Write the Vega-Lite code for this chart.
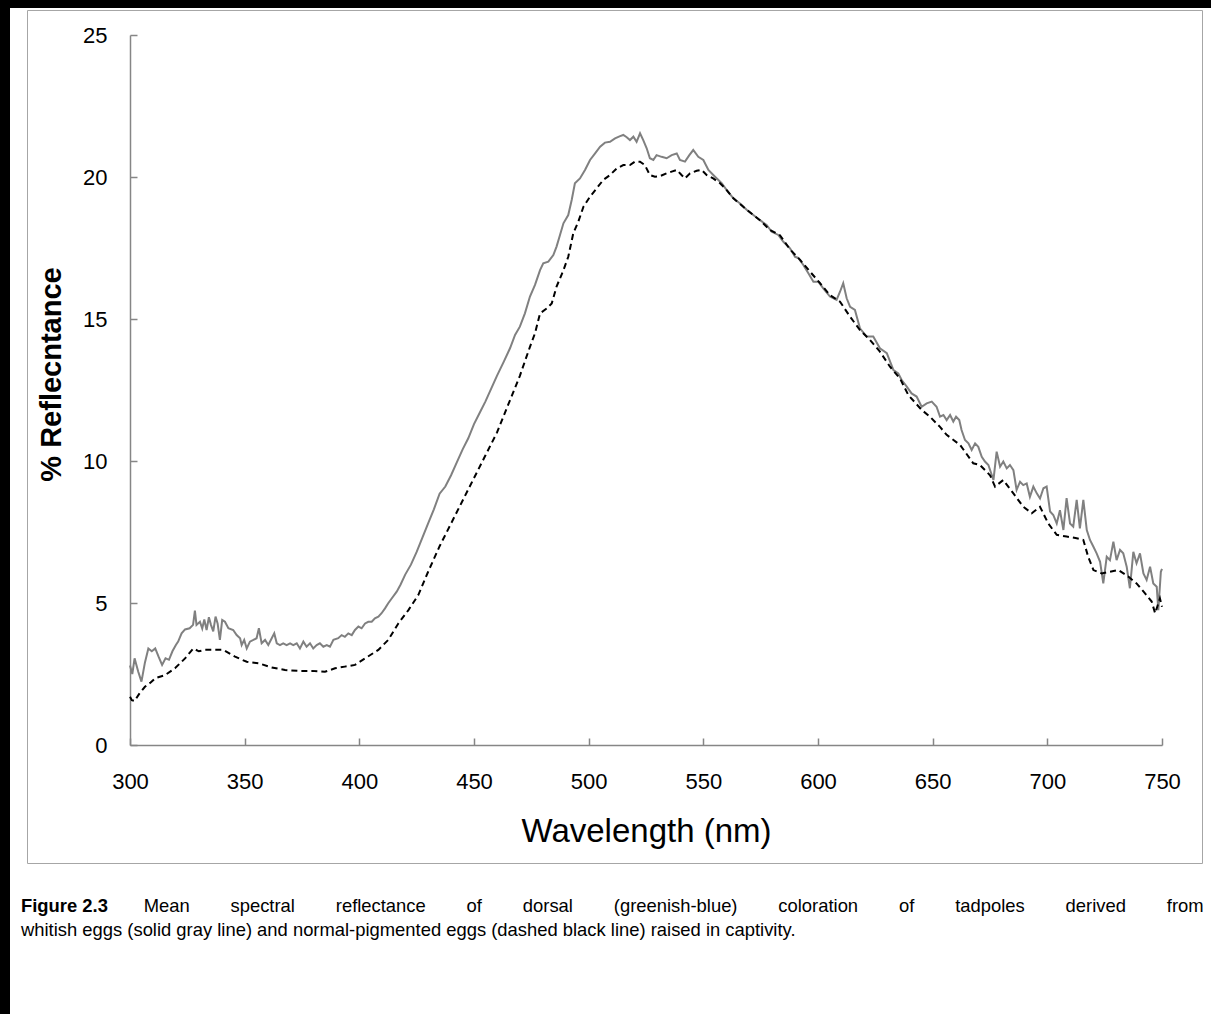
{
  "$schema": "https://vega.github.io/schema/vega-lite/v6.json",
  "autosize": "none",
  "width": 1201,
  "height": 1006,
  "padding": {"left": 10, "top": 8, "right": 0, "bottom": 0},
  "background": "black",
  "config": {
    "view": {"fill": "white", "stroke": null},
    "font": "Liberation Sans",
    "axis": {"grid": false, "labelFont": "Liberation Sans", "titleFont": "Liberation Sans"}
  },
  "title": {
    "text": "Figure 2.3",
    "subtitle": [
      "\u200b\u00a0\u00a0\u00a0\u00a0\u00a0\u00a0\u00a0\u00a0\u00a0\u00a0\u00a0\u00a0\u00a0\u00a0\u00a0\u00a0\u00a0\u00a0\u00a0\u00a0\u00a0\u00a0\u00a0\u00a0Mean \u00a0\u00a0\u00a0\u00a0\u00a0\u00a0\u00a0spectral \u00a0\u00a0\u00a0\u00a0\u00a0\u00a0\u00a0reflectance \u00a0\u00a0\u00a0\u00a0\u00a0\u00a0\u00a0of \u00a0\u00a0\u00a0\u00a0\u00a0\u00a0\u00a0dorsal \u00a0\u00a0\u00a0\u00a0\u00a0\u00a0\u00a0(greenish-blue) \u00a0\u00a0\u00a0\u00a0\u00a0\u00a0\u00a0coloration \u00a0\u00a0\u00a0\u00a0\u00a0\u00a0\u00a0of \u00a0\u00a0\u00a0\u00a0\u00a0\u00a0\u00a0tadpoles \u00a0\u00a0\u00a0\u00a0\u00a0\u00a0\u00a0derived \u00a0\u00a0\u00a0\u00a0\u00a0\u00a0\u00a0from",
      "whitish eggs (solid gray line) and normal-pigmented eggs (dashed black line) raised in captivity."
    ],
    "orient": "bottom",
    "anchor": "start",
    "frame": "group",
    "offset": -117,
    "dx": 11,
    "font": "Liberation Sans",
    "fontSize": 18.4,
    "fontWeight": "bold",
    "color": "black",
    "subtitleFont": "Liberation Sans",
    "subtitleFontSize": 18.4,
    "subtitleFontWeight": "normal",
    "subtitleColor": "black",
    "subtitlePadding": -18.4,
    "subtitleLineHeight": 24
  },
  "datasets": {
    "whitish": [
      {"wavelength": 300, "reflectance": 2.8}, {"wavelength": 301, "reflectance": 2.5}, {"wavelength": 302, "reflectance": 3.05}, {"wavelength": 303.6, "reflectance": 2.58}, {"wavelength": 305, "reflectance": 2.23}, {"wavelength": 306.5, "reflectance": 2.9}, {"wavelength": 308, "reflectance": 3.4}, {"wavelength": 309.5, "reflectance": 3.3}, {"wavelength": 311, "reflectance": 3.4}, {"wavelength": 312.5, "reflectance": 3.1}, {"wavelength": 314, "reflectance": 2.82}, {"wavelength": 315.5, "reflectance": 3.05}, {"wavelength": 317, "reflectance": 3.0}, {"wavelength": 318.5, "reflectance": 3.3}, {"wavelength": 320, "reflectance": 3.52}, {"wavelength": 321, "reflectance": 3.64}, {"wavelength": 322.5, "reflectance": 3.93}, {"wavelength": 324, "reflectance": 4.07}, {"wavelength": 326, "reflectance": 4.11}, {"wavelength": 327.5, "reflectance": 4.23}, {"wavelength": 328.3, "reflectance": 4.73}, {"wavelength": 329, "reflectance": 4.23}, {"wavelength": 330.5, "reflectance": 4.34}, {"wavelength": 331.5, "reflectance": 4.1}, {"wavelength": 332.4, "reflectance": 4.42}, {"wavelength": 333.4, "reflectance": 4.05}, {"wavelength": 334.4, "reflectance": 4.5}, {"wavelength": 335.3, "reflectance": 4.23}, {"wavelength": 336.3, "reflectance": 4.0}, {"wavelength": 337.3, "reflectance": 4.52}, {"wavelength": 338.2, "reflectance": 4.28}, {"wavelength": 339.2, "reflectance": 3.7}, {"wavelength": 340.2, "reflectance": 4.4}, {"wavelength": 341.4, "reflectance": 4.34}, {"wavelength": 342.9, "reflectance": 4.11}, {"wavelength": 345, "reflectance": 4.05}, {"wavelength": 346.5, "reflectance": 3.87}, {"wavelength": 348, "reflectance": 3.76}, {"wavelength": 348.7, "reflectance": 3.52}, {"wavelength": 349.8, "reflectance": 3.7}, {"wavelength": 350.9, "reflectance": 3.4}, {"wavelength": 352.3, "reflectance": 3.64}, {"wavelength": 353.8, "reflectance": 3.7}, {"wavelength": 355.2, "reflectance": 3.76}, {"wavelength": 356.2, "reflectance": 4.11}, {"wavelength": 357.4, "reflectance": 3.58}, {"wavelength": 358.9, "reflectance": 3.7}, {"wavelength": 360.3, "reflectance": 3.52}, {"wavelength": 361.8, "reflectance": 3.76}, {"wavelength": 362.9, "reflectance": 3.93}, {"wavelength": 364, "reflectance": 3.58}, {"wavelength": 365.4, "reflectance": 3.52}, {"wavelength": 366.8, "reflectance": 3.58}, {"wavelength": 368.3, "reflectance": 3.52}, {"wavelength": 369.8, "reflectance": 3.58}, {"wavelength": 371.2, "reflectance": 3.52}, {"wavelength": 372.7, "reflectance": 3.58}, {"wavelength": 374.1, "reflectance": 3.4}, {"wavelength": 375.6, "reflectance": 3.64}, {"wavelength": 377, "reflectance": 3.46}, {"wavelength": 378.5, "reflectance": 3.58}, {"wavelength": 379.9, "reflectance": 3.4}, {"wavelength": 381.4, "reflectance": 3.52}, {"wavelength": 382.8, "reflectance": 3.58}, {"wavelength": 384.3, "reflectance": 3.46}, {"wavelength": 385.8, "reflectance": 3.52}, {"wavelength": 387.2, "reflectance": 3.46}, {"wavelength": 388.7, "reflectance": 3.7}, {"wavelength": 390.8, "reflectance": 3.76}, {"wavelength": 392.3, "reflectance": 3.87}, {"wavelength": 393.7, "reflectance": 3.81}, {"wavelength": 395.2, "reflectance": 3.93}, {"wavelength": 396.7, "reflectance": 3.87}, {"wavelength": 398.1, "reflectance": 4.05}, {"wavelength": 399.6, "reflectance": 4.17}, {"wavelength": 401, "reflectance": 4.11}, {"wavelength": 402.5, "reflectance": 4.28}, {"wavelength": 403.9, "reflectance": 4.34}, {"wavelength": 405.4, "reflectance": 4.34}, {"wavelength": 406.8, "reflectance": 4.46}, {"wavelength": 408.3, "reflectance": 4.52}, {"wavelength": 409.7, "reflectance": 4.64}, {"wavelength": 411.2, "reflectance": 4.81}, {"wavelength": 412.6, "reflectance": 4.99}, {"wavelength": 414.1, "reflectance": 5.16}, {"wavelength": 416.3, "reflectance": 5.4}, {"wavelength": 418, "reflectance": 5.65}, {"wavelength": 420, "reflectance": 6.0}, {"wavelength": 422.5, "reflectance": 6.35}, {"wavelength": 425, "reflectance": 6.8}, {"wavelength": 427.5, "reflectance": 7.3}, {"wavelength": 430, "reflectance": 7.8}, {"wavelength": 432.5, "reflectance": 8.3}, {"wavelength": 435, "reflectance": 8.85}, {"wavelength": 437.5, "reflectance": 9.1}, {"wavelength": 440, "reflectance": 9.5}, {"wavelength": 442.5, "reflectance": 9.95}, {"wavelength": 445, "reflectance": 10.4}, {"wavelength": 447.5, "reflectance": 10.8}, {"wavelength": 450, "reflectance": 11.3}, {"wavelength": 452.5, "reflectance": 11.7}, {"wavelength": 455, "reflectance": 12.1}, {"wavelength": 457.5, "reflectance": 12.55}, {"wavelength": 460, "reflectance": 13.0}, {"wavelength": 463, "reflectance": 13.5}, {"wavelength": 465.7, "reflectance": 13.97}, {"wavelength": 467.9, "reflectance": 14.44}, {"wavelength": 470, "reflectance": 14.73}, {"wavelength": 472.2, "reflectance": 15.2}, {"wavelength": 474.4, "reflectance": 15.79}, {"wavelength": 476.6, "reflectance": 16.2}, {"wavelength": 478.8, "reflectance": 16.72}, {"wavelength": 480.2, "reflectance": 16.96}, {"wavelength": 482.4, "reflectance": 17.02}, {"wavelength": 484.6, "reflectance": 17.25}, {"wavelength": 486, "reflectance": 17.55}, {"wavelength": 487.5, "reflectance": 17.96}, {"wavelength": 489, "reflectance": 18.37}, {"wavelength": 491.1, "reflectance": 18.66}, {"wavelength": 492.6, "reflectance": 19.19}, {"wavelength": 494, "reflectance": 19.78}, {"wavelength": 496.2, "reflectance": 19.95}, {"wavelength": 498.4, "reflectance": 20.25}, {"wavelength": 500.6, "reflectance": 20.6}, {"wavelength": 502.8, "reflectance": 20.83}, {"wavelength": 505, "reflectance": 21.07}, {"wavelength": 507.1, "reflectance": 21.21}, {"wavelength": 509.3, "reflectance": 21.24}, {"wavelength": 511.5, "reflectance": 21.36}, {"wavelength": 513.7, "reflectance": 21.44}, {"wavelength": 515.1, "reflectance": 21.48}, {"wavelength": 516.6, "reflectance": 21.4}, {"wavelength": 518, "reflectance": 21.3}, {"wavelength": 519.5, "reflectance": 21.42}, {"wavelength": 520.9, "reflectance": 21.24}, {"wavelength": 522.4, "reflectance": 21.54}, {"wavelength": 523.8, "reflectance": 21.3}, {"wavelength": 525.3, "reflectance": 21.01}, {"wavelength": 526.7, "reflectance": 20.66}, {"wavelength": 528.2, "reflectance": 20.6}, {"wavelength": 529.6, "reflectance": 20.77}, {"wavelength": 531.8, "reflectance": 20.71}, {"wavelength": 534, "reflectance": 20.66}, {"wavelength": 536.2, "reflectance": 20.77}, {"wavelength": 538.4, "reflectance": 20.83}, {"wavelength": 539.8, "reflectance": 20.6}, {"wavelength": 542, "reflectance": 20.54}, {"wavelength": 543.9, "reflectance": 20.77}, {"wavelength": 545.6, "reflectance": 20.95}, {"wavelength": 547.8, "reflectance": 20.71}, {"wavelength": 550, "reflectance": 20.6}, {"wavelength": 552.2, "reflectance": 20.25}, {"wavelength": 555.1, "reflectance": 20.01}, {"wavelength": 558, "reflectance": 19.78}, {"wavelength": 560.2, "reflectance": 19.54}, {"wavelength": 563.1, "reflectance": 19.25}, {"wavelength": 566, "reflectance": 19.07}, {"wavelength": 569, "reflectance": 18.84}, {"wavelength": 571.8, "reflectance": 18.66}, {"wavelength": 574.7, "reflectance": 18.48}, {"wavelength": 577.6, "reflectance": 18.31}, {"wavelength": 579.8, "reflectance": 18.07}, {"wavelength": 582.7, "reflectance": 17.96}, {"wavelength": 584.9, "reflectance": 17.72}, {"wavelength": 587.8, "reflectance": 17.49}, {"wavelength": 590, "reflectance": 17.19}, {"wavelength": 591.4, "reflectance": 17.15}, {"wavelength": 593.6, "reflectance": 16.9}, {"wavelength": 595.8, "reflectance": 16.61}, {"wavelength": 598, "reflectance": 16.31}, {"wavelength": 600.2, "reflectance": 16.31}, {"wavelength": 602.3, "reflectance": 16.08}, {"wavelength": 605.2, "reflectance": 15.79}, {"wavelength": 608.1, "reflectance": 15.67}, {"wavelength": 609.6, "reflectance": 15.96}, {"wavelength": 611, "reflectance": 16.26}, {"wavelength": 612.5, "reflectance": 15.73}, {"wavelength": 614, "reflectance": 15.43}, {"wavelength": 616.1, "reflectance": 15.32}, {"wavelength": 618.3, "reflectance": 14.67}, {"wavelength": 621.2, "reflectance": 14.38}, {"wavelength": 624.1, "reflectance": 14.38}, {"wavelength": 627, "reflectance": 13.97}, {"wavelength": 630, "reflectance": 13.8}, {"wavelength": 632.9, "reflectance": 13.2}, {"wavelength": 635, "reflectance": 13.08}, {"wavelength": 636.5, "reflectance": 12.85}, {"wavelength": 638.7, "reflectance": 12.62}, {"wavelength": 640.8, "reflectance": 12.38}, {"wavelength": 643, "reflectance": 12.27}, {"wavelength": 645.2, "reflectance": 11.91}, {"wavelength": 647.4, "reflectance": 12.03}, {"wavelength": 649.6, "reflectance": 12.09}, {"wavelength": 651.7, "reflectance": 11.91}, {"wavelength": 653.2, "reflectance": 11.56}, {"wavelength": 654.7, "reflectance": 11.62}, {"wavelength": 656.1, "reflectance": 11.44}, {"wavelength": 657.6, "reflectance": 11.62}, {"wavelength": 659, "reflectance": 11.39}, {"wavelength": 660.2, "reflectance": 11.56}, {"wavelength": 661.6, "reflectance": 11.44}, {"wavelength": 662.6, "reflectance": 11.09}, {"wavelength": 664.1, "reflectance": 10.74}, {"wavelength": 665.6, "reflectance": 10.62}, {"wavelength": 667, "reflectance": 10.39}, {"wavelength": 668.5, "reflectance": 10.62}, {"wavelength": 669.9, "reflectance": 10.5}, {"wavelength": 671.4, "reflectance": 10.15}, {"wavelength": 672.8, "reflectance": 9.98}, {"wavelength": 674.3, "reflectance": 9.86}, {"wavelength": 676.5, "reflectance": 9.33}, {"wavelength": 677.9, "reflectance": 10.33}, {"wavelength": 679.4, "reflectance": 9.8}, {"wavelength": 680.8, "reflectance": 9.98}, {"wavelength": 682.3, "reflectance": 9.74}, {"wavelength": 683.7, "reflectance": 9.86}, {"wavelength": 685.2, "reflectance": 9.68}, {"wavelength": 686.6, "reflectance": 8.98}, {"wavelength": 688.1, "reflectance": 9.27}, {"wavelength": 689.5, "reflectance": 9.15}, {"wavelength": 691, "reflectance": 9.21}, {"wavelength": 692.4, "reflectance": 8.74}, {"wavelength": 693.9, "reflectance": 9.1}, {"wavelength": 695.4, "reflectance": 8.86}, {"wavelength": 696.8, "reflectance": 8.68}, {"wavelength": 698.3, "reflectance": 9.04}, {"wavelength": 699.7, "reflectance": 9.1}, {"wavelength": 701.2, "reflectance": 8.22}, {"wavelength": 702.6, "reflectance": 8.1}, {"wavelength": 704.1, "reflectance": 7.8}, {"wavelength": 705.5, "reflectance": 8.27}, {"wavelength": 707, "reflectance": 7.57}, {"wavelength": 708.4, "reflectance": 8.69}, {"wavelength": 709.9, "reflectance": 7.8}, {"wavelength": 711.3, "reflectance": 7.69}, {"wavelength": 712.8, "reflectance": 8.63}, {"wavelength": 714.2, "reflectance": 7.63}, {"wavelength": 715.7, "reflectance": 8.63}, {"wavelength": 717.2, "reflectance": 7.57}, {"wavelength": 718.6, "reflectance": 7.22}, {"wavelength": 720.1, "reflectance": 6.98}, {"wavelength": 721.5, "reflectance": 6.75}, {"wavelength": 723, "reflectance": 6.45}, {"wavelength": 724.4, "reflectance": 5.69}, {"wavelength": 725.9, "reflectance": 6.63}, {"wavelength": 727.3, "reflectance": 6.51}, {"wavelength": 728.8, "reflectance": 7.16}, {"wavelength": 730.2, "reflectance": 6.51}, {"wavelength": 731.7, "reflectance": 6.87}, {"wavelength": 733.1, "reflectance": 6.75}, {"wavelength": 734.6, "reflectance": 6.28}, {"wavelength": 736, "reflectance": 5.52}, {"wavelength": 737.5, "reflectance": 6.8}, {"wavelength": 738.9, "reflectance": 6.4}, {"wavelength": 740.4, "reflectance": 6.75}, {"wavelength": 741.9, "reflectance": 6.04}, {"wavelength": 743.3, "reflectance": 5.81}, {"wavelength": 744.8, "reflectance": 6.28}, {"wavelength": 746.2, "reflectance": 5.69}, {"wavelength": 747.7, "reflectance": 5.57}, {"wavelength": 748.4, "reflectance": 4.75}, {"wavelength": 749.5, "reflectance": 6.1}, {"wavelength": 750, "reflectance": 6.2}
    ],
    "normal": [
      {"wavelength": 300, "reflectance": 1.7}, {"wavelength": 300.8, "reflectance": 1.58}, {"wavelength": 302, "reflectance": 1.55}, {"wavelength": 304, "reflectance": 1.8}, {"wavelength": 306.5, "reflectance": 2.05}, {"wavelength": 309, "reflectance": 2.2}, {"wavelength": 311, "reflectance": 2.35}, {"wavelength": 315.3, "reflectance": 2.46}, {"wavelength": 319.6, "reflectance": 2.7}, {"wavelength": 324, "reflectance": 3.05}, {"wavelength": 327.6, "reflectance": 3.4}, {"wavelength": 330, "reflectance": 3.3}, {"wavelength": 332.7, "reflectance": 3.35}, {"wavelength": 337, "reflectance": 3.35}, {"wavelength": 340.7, "reflectance": 3.35}, {"wavelength": 345.8, "reflectance": 3.11}, {"wavelength": 350.9, "reflectance": 2.93}, {"wavelength": 356, "reflectance": 2.88}, {"wavelength": 361.8, "reflectance": 2.73}, {"wavelength": 367.6, "reflectance": 2.64}, {"wavelength": 373.4, "reflectance": 2.61}, {"wavelength": 379.2, "reflectance": 2.61}, {"wavelength": 385, "reflectance": 2.58}, {"wavelength": 389.4, "reflectance": 2.7}, {"wavelength": 393.7, "reflectance": 2.76}, {"wavelength": 398.1, "reflectance": 2.82}, {"wavelength": 402.5, "reflectance": 3.05}, {"wavelength": 408.3, "reflectance": 3.35}, {"wavelength": 412.6, "reflectance": 3.7}, {"wavelength": 417, "reflectance": 4.28}, {"wavelength": 421.4, "reflectance": 4.75}, {"wavelength": 425.7, "reflectance": 5.28}, {"wavelength": 430, "reflectance": 6.1}, {"wavelength": 435, "reflectance": 7.0}, {"wavelength": 440, "reflectance": 7.8}, {"wavelength": 445, "reflectance": 8.6}, {"wavelength": 450, "reflectance": 9.4}, {"wavelength": 455, "reflectance": 10.2}, {"wavelength": 460, "reflectance": 11.0}, {"wavelength": 465, "reflectance": 12.0}, {"wavelength": 470, "reflectance": 13.0}, {"wavelength": 474.4, "reflectance": 14.02}, {"wavelength": 476.6, "reflectance": 14.5}, {"wavelength": 478.8, "reflectance": 15.2}, {"wavelength": 481.7, "reflectance": 15.37}, {"wavelength": 483.9, "reflectance": 15.55}, {"wavelength": 486, "reflectance": 16.14}, {"wavelength": 489, "reflectance": 16.72}, {"wavelength": 491.1, "reflectance": 17.19}, {"wavelength": 493.3, "reflectance": 18.02}, {"wavelength": 495.5, "reflectance": 18.43}, {"wavelength": 497.7, "reflectance": 18.95}, {"wavelength": 500.6, "reflectance": 19.31}, {"wavelength": 503.5, "reflectance": 19.6}, {"wavelength": 506.4, "reflectance": 19.9}, {"wavelength": 509.3, "reflectance": 20.07}, {"wavelength": 512.2, "reflectance": 20.3}, {"wavelength": 515.1, "reflectance": 20.42}, {"wavelength": 518, "reflectance": 20.42}, {"wavelength": 520.2, "reflectance": 20.54}, {"wavelength": 522.4, "reflectance": 20.54}, {"wavelength": 524.5, "reflectance": 20.42}, {"wavelength": 526.7, "reflectance": 20.07}, {"wavelength": 528.9, "reflectance": 20.01}, {"wavelength": 531.1, "reflectance": 20.03}, {"wavelength": 534, "reflectance": 20.13}, {"wavelength": 536.2, "reflectance": 20.19}, {"wavelength": 538.4, "reflectance": 20.25}, {"wavelength": 540.5, "reflectance": 20.07}, {"wavelength": 542, "reflectance": 19.95}, {"wavelength": 544.2, "reflectance": 20.13}, {"wavelength": 547.1, "reflectance": 20.22}, {"wavelength": 549.3, "reflectance": 20.25}, {"wavelength": 551.4, "reflectance": 20.07}, {"wavelength": 554.3, "reflectance": 19.95}, {"wavelength": 557.3, "reflectance": 19.78}, {"wavelength": 560.2, "reflectance": 19.54}, {"wavelength": 563.1, "reflectance": 19.25}, {"wavelength": 567.4, "reflectance": 18.95}, {"wavelength": 571.8, "reflectance": 18.66}, {"wavelength": 574.7, "reflectance": 18.48}, {"wavelength": 579.1, "reflectance": 18.13}, {"wavelength": 583.4, "reflectance": 17.95}, {"wavelength": 587.8, "reflectance": 17.45}, {"wavelength": 592.2, "reflectance": 17.08}, {"wavelength": 596.5, "reflectance": 16.67}, {"wavelength": 600.9, "reflectance": 16.26}, {"wavelength": 605.2, "reflectance": 15.84}, {"wavelength": 609.6, "reflectance": 15.61}, {"wavelength": 614, "reflectance": 15.08}, {"wavelength": 618.3, "reflectance": 14.61}, {"wavelength": 622.7, "reflectance": 14.26}, {"wavelength": 627, "reflectance": 13.85}, {"wavelength": 631.4, "reflectance": 13.32}, {"wavelength": 635.8, "reflectance": 12.9}, {"wavelength": 639.4, "reflectance": 12.32}, {"wavelength": 645.2, "reflectance": 11.8}, {"wavelength": 648.8, "reflectance": 11.56}, {"wavelength": 653.2, "reflectance": 11.2}, {"wavelength": 656.1, "reflectance": 10.92}, {"wavelength": 662, "reflectance": 10.56}, {"wavelength": 667.7, "reflectance": 9.92}, {"wavelength": 670.6, "reflectance": 9.86}, {"wavelength": 675, "reflectance": 9.5}, {"wavelength": 677.2, "reflectance": 9.1}, {"wavelength": 680.8, "reflectance": 9.33}, {"wavelength": 685.2, "reflectance": 8.86}, {"wavelength": 689.5, "reflectance": 8.39}, {"wavelength": 693.2, "reflectance": 8.16}, {"wavelength": 696.8, "reflectance": 8.39}, {"wavelength": 700.4, "reflectance": 7.8}, {"wavelength": 704.1, "reflectance": 7.4}, {"wavelength": 708.4, "reflectance": 7.34}, {"wavelength": 712.8, "reflectance": 7.28}, {"wavelength": 715.7, "reflectance": 7.22}, {"wavelength": 717.8, "reflectance": 6.63}, {"wavelength": 720.1, "reflectance": 6.16}, {"wavelength": 723.7, "reflectance": 6.04}, {"wavelength": 727.3, "reflectance": 6.1}, {"wavelength": 731, "reflectance": 6.16}, {"wavelength": 735.3, "reflectance": 5.93}, {"wavelength": 738.9, "reflectance": 5.69}, {"wavelength": 742.6, "reflectance": 5.34}, {"wavelength": 745.5, "reflectance": 5.05}, {"wavelength": 747, "reflectance": 4.64}, {"wavelength": 749.1, "reflectance": 5.16}, {"wavelength": 750, "reflectance": 4.87}
    ]
  },
  "layer": [
    {
      "encoding": {
        "x": {
          "field": "wavelength", "type": "quantitative",
          "scale": {"domain": [300, 750], "range": [120, 1152], "nice": false, "zero": false},
          "axis": {
            "orient": "bottom", "offset": -269, "values": [300, 350, 400, 450, 500, 550, 600, 650, 700, 750],
            "domainColor": "#868686", "domainWidth": 1.5, "tickColor": "#868686", "tickWidth": 1.5, "tickSize": -7,
            "labelFontSize": 22, "labelColor": "black", "labelPadding": 33, "labelFlush": false, "labelOverlap": false,
            "title": "Wavelength (nm)", "titleFontSize": 33, "titleFontWeight": "normal", "titleColor": "black", "titleY": 70
          }
        },
        "y": {
          "field": "reflectance", "type": "quantitative",
          "scale": {"domain": [0, 25], "range": [737, 27], "nice": false, "zero": false},
          "axis": {
            "orient": "left", "offset": -120, "values": [0, 5, 10, 15, 20, 25],
            "domainColor": "#868686", "domainWidth": 1.5, "tickColor": "#868686", "tickWidth": 1.5, "tickSize": -7,
            "labelFontSize": 22, "labelColor": "black", "labelPadding": 30, "labelFlush": false, "labelOverlap": false,
            "title": "% Reflecntance", "titleFontSize": 29, "titleFontWeight": "bold", "titleColor": "black", "titleX": -64, "titleY": 366
          }
        }
      },
      "layer": [
        {"data": {"name": "whitish"}, "mark": {"type": "line", "color": "#808080", "strokeWidth": 2}},
        {"data": {"name": "normal"}, "mark": {"type": "line", "color": "black", "strokeWidth": 2, "strokeDash": [6, 4]}}
      ]
    },
    {
      "data": {"values": []},
      "mark": {"type": "point", "opacity": 0},
      "encoding": {
        "x": {"field": "a", "type": "quantitative", "scale": {"domain": [0, 1], "range": [17, 1192], "nice": false},
              "axis": {"orient": "top", "offset": -2, "ticks": false, "labels": false, "title": null, "domainColor": "#a6a6a6", "domainWidth": 1}},
        "y": {"field": "b", "type": "quantitative", "scale": {"domain": [0, 1], "range": [855, 2], "nice": false},
              "axis": {"orient": "right", "offset": -9, "ticks": false, "labels": false, "title": null, "domainColor": "#a6a6a6", "domainWidth": 1}}
      }
    },
    {
      "data": {"values": []},
      "mark": {"type": "point", "opacity": 0},
      "encoding": {
        "x": {"field": "c", "type": "quantitative", "scale": {"domain": [0, 1], "range": [17, 1192], "nice": false},
              "axis": {"orient": "bottom", "offset": -151, "ticks": false, "labels": false, "title": null, "domainColor": "#a6a6a6", "domainWidth": 1}},
        "y": {"field": "d", "type": "quantitative", "scale": {"domain": [0, 1], "range": [855, 2], "nice": false},
              "axis": {"orient": "left", "offset": -17, "ticks": false, "labels": false, "title": null, "domainColor": "#a6a6a6", "domainWidth": 1}}
      }
    }
  ],
  "resolve": {
    "scale": {"x": "independent", "y": "independent"},
    "axis": {"x": "independent", "y": "independent"}
  }
}
